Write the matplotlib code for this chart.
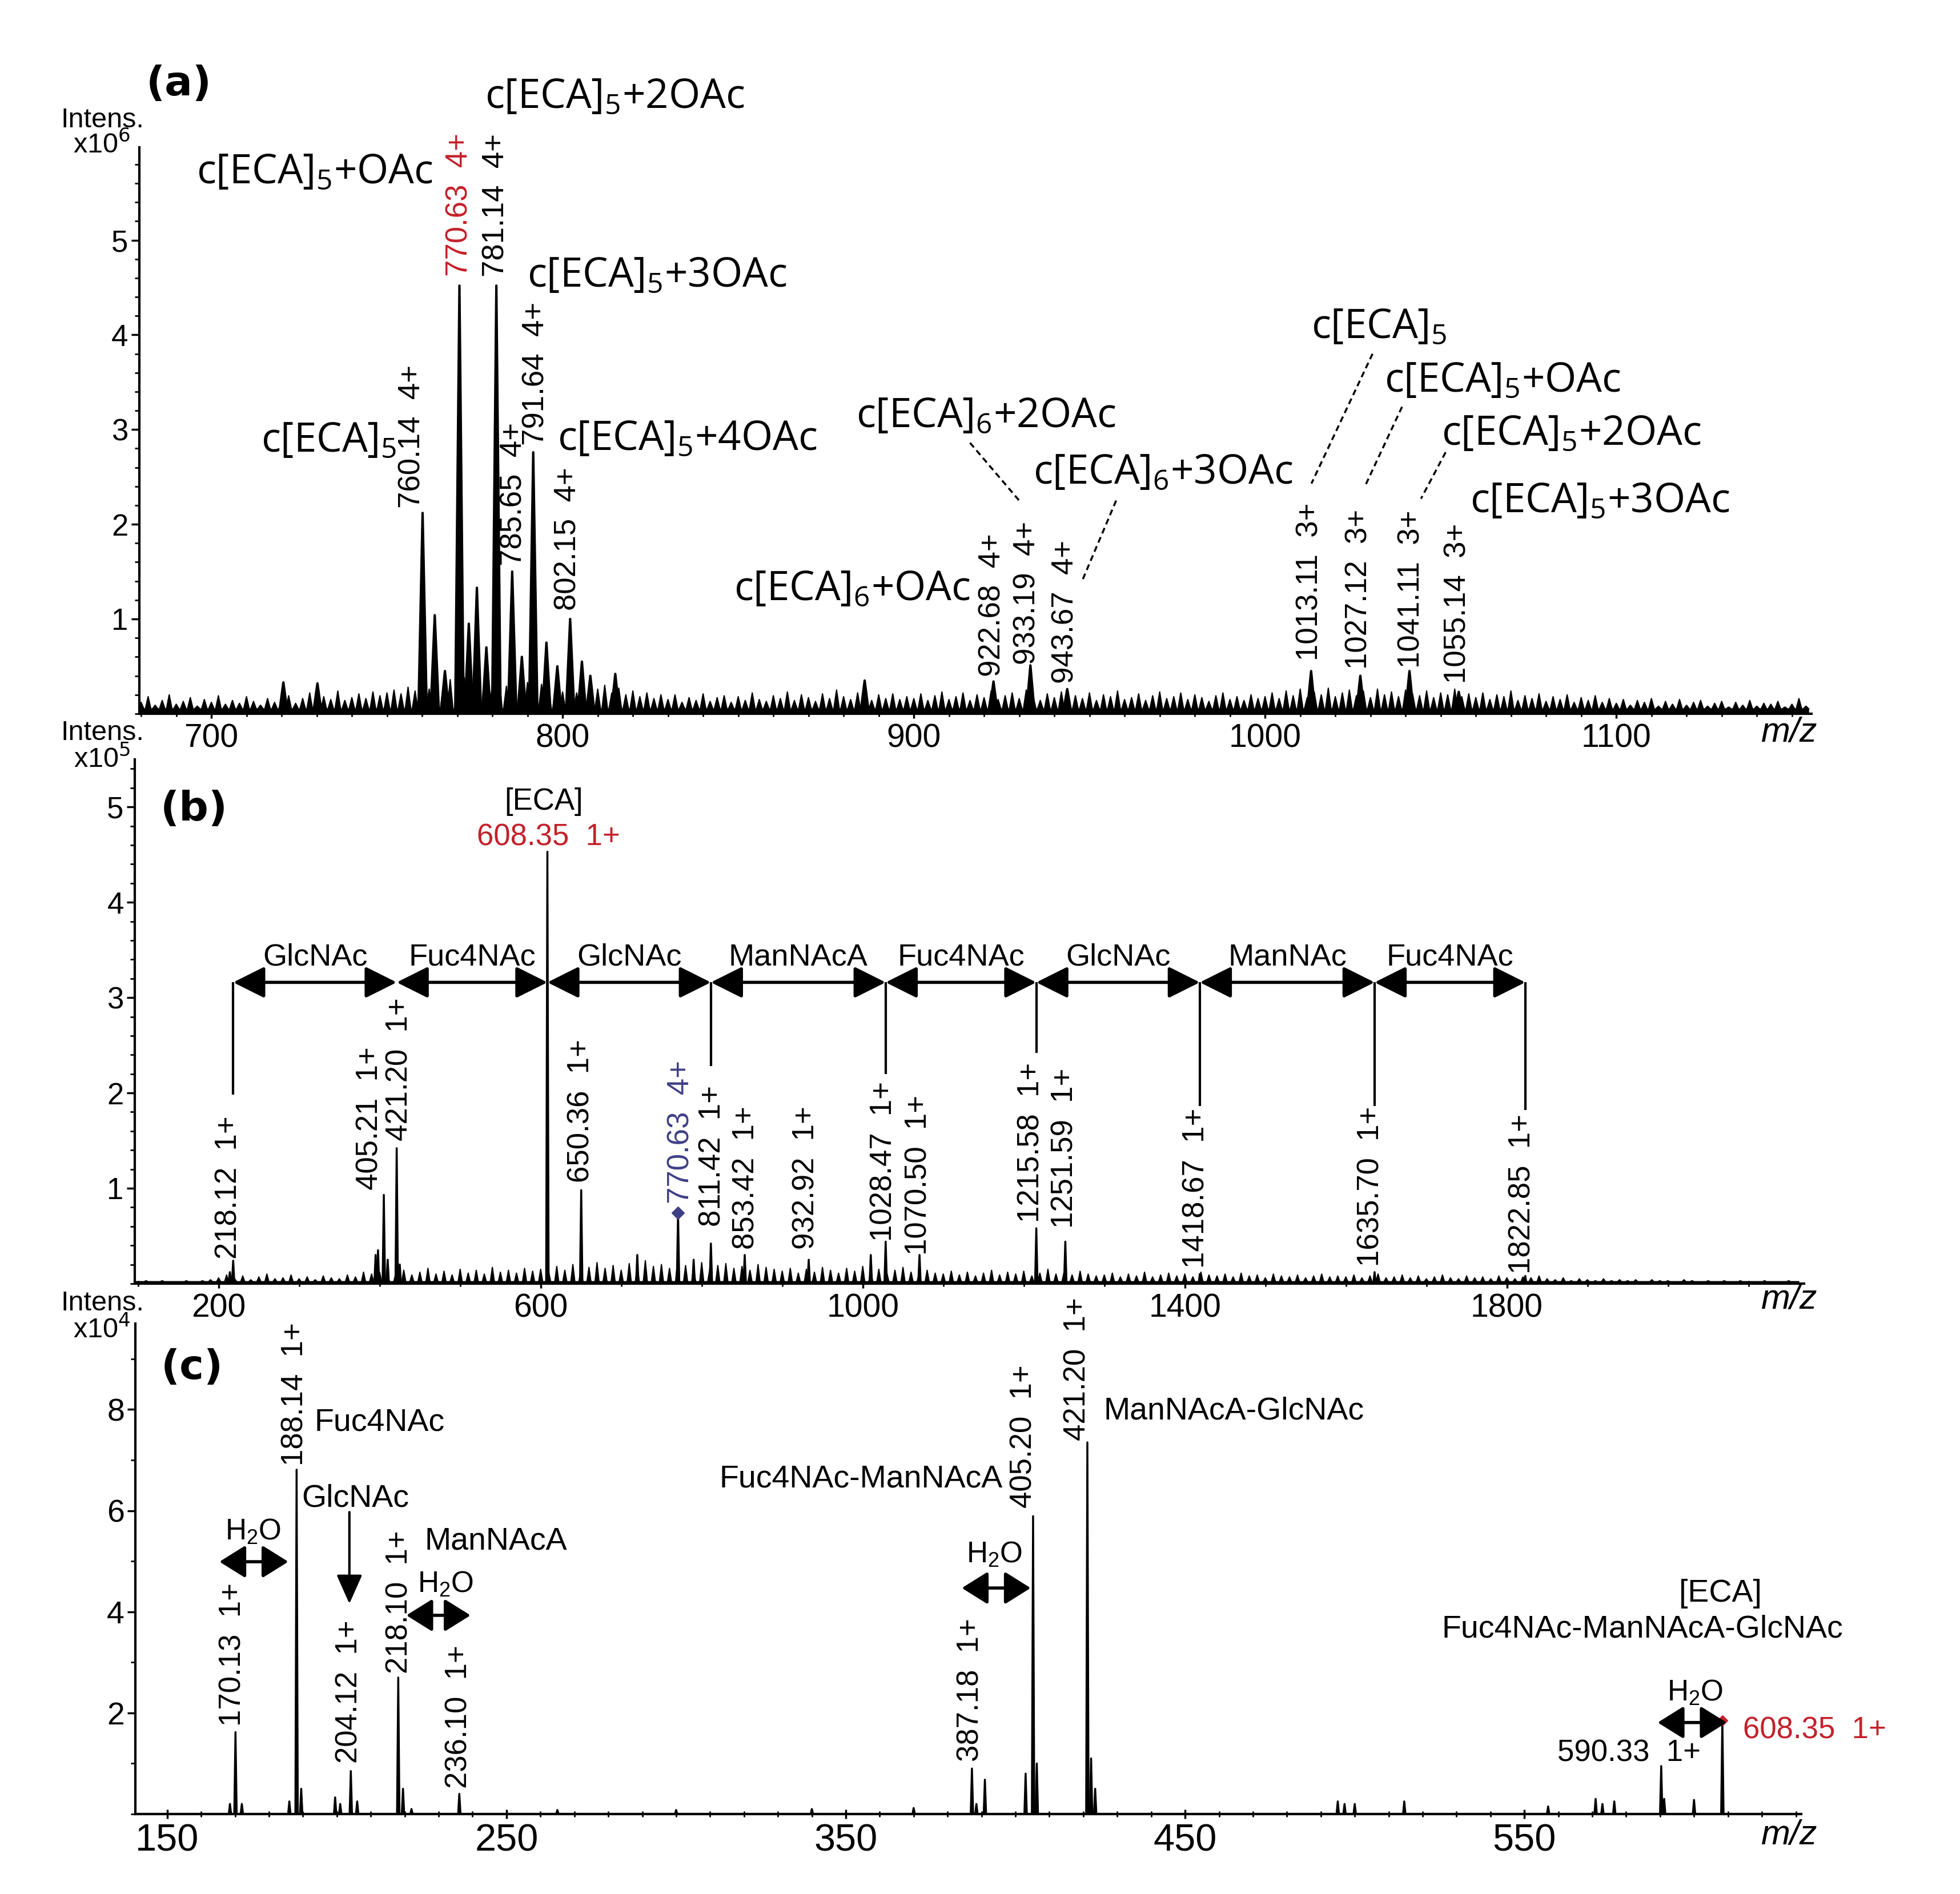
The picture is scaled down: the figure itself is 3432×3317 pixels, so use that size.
import numpy as np
import matplotlib.pyplot as plt
from matplotlib.ticker import MultipleLocator, FixedLocator

plt.rcParams['font.family'] = ['Liberation Sans', 'DejaVu Sans']

RED = '#c4212b'
NAVY = '#3f3f86'
OPEN = ['Open Sans', 'DejaVu Sans']

# ---------------- panel (a): x10^6 ----------------
a_peak_mz = [720.5, 730.2, 760.14, 763.6, 766.5, 770.63, 773.3, 775.6, 778.3, 781.14,
             785.65, 788.4, 791.64, 795.4, 798.5, 802.15, 805.5, 807.9, 815.0, 886.0,
             922.68, 933.19, 943.67, 1013.11, 1027.12, 1041.11, 1055.14]
a_peak_int = [0.33, 0.32, 2.12, 1.04, 0.45, 4.52, 0.95, 1.33, 0.70, 4.52,
              1.50, 0.60, 2.76, 0.75, 0.50, 1.00, 0.55, 0.40, 0.42, 0.35,
              0.34, 0.51, 0.26, 0.45, 0.40, 0.45, 0.23]
a_floor = 0.05
a_noise_mz0, a_noise_step = 680, 2
a_noise = [0.12, 0.18, 0.09, 0.14, 0.20, 0.10, 0.13, 0.17, 0.08, 0.15, 0.12, 0.19, 0.10, 0.14, 0.11, 0.18, 0.13, 0.09, 0.16, 0.12,
           0.14, 0.19, 0.11, 0.16, 0.22, 0.13, 0.18, 0.15, 0.24, 0.14, 0.17, 0.21, 0.16, 0.23, 0.19,
           0.22, 0.25, 0.21, 0.28, 0.24, 0.30, 0.26, 0.33, 0.28, 0.36, 0.30, 0.38, 0.32, 0.40, 0.34,
           0.31, 0.37, 0.29, 0.34, 0.28, 0.33, 0.26, 0.31, 0.25, 0.30, 0.23, 0.28, 0.22, 0.27, 0.21,
           0.26, 0.30, 0.22, 0.27, 0.20, 0.24, 0.18, 0.22, 0.16, 0.20,
           0.15, 0.20, 0.12, 0.17, 0.14, 0.21, 0.13, 0.17, 0.19, 0.12, 0.18, 0.14, 0.22, 0.15, 0.13, 0.19, 0.16, 0.23,
           0.14, 0.20, 0.17, 0.13, 0.21, 0.16, 0.25, 0.18, 0.15, 0.22, 0.17, 0.14, 0.20, 0.16, 0.21, 0.15, 0.18,
           0.16, 0.21, 0.14, 0.19, 0.23, 0.15, 0.18, 0.22, 0.14, 0.20, 0.17, 0.24, 0.15, 0.19, 0.22, 0.16, 0.25,
           0.18, 0.14, 0.21, 0.17, 0.23, 0.15, 0.19, 0.16, 0.22, 0.14, 0.20, 0.18, 0.24, 0.15, 0.17, 0.21, 0.14,
           0.19, 0.23, 0.16, 0.18, 0.22, 0.15, 0.20, 0.17, 0.13, 0.19, 0.22, 0.15, 0.18, 0.14, 0.20, 0.16,
           0.18, 0.22, 0.16, 0.24, 0.19, 0.26, 0.17, 0.23, 0.20, 0.27, 0.18, 0.22, 0.25, 0.19, 0.24,
           0.17, 0.26, 0.20, 0.23, 0.18, 0.25, 0.21, 0.19, 0.24, 0.17, 0.22, 0.20, 0.26, 0.18, 0.21,
           0.17, 0.22, 0.15, 0.20, 0.18, 0.24, 0.14, 0.19, 0.16, 0.21, 0.13, 0.18, 0.15, 0.20, 0.12, 0.17, 0.14, 0.19, 0.12, 0.16,
           0.11, 0.15, 0.09, 0.14, 0.12, 0.16, 0.08, 0.13, 0.10, 0.15, 0.09, 0.12, 0.14, 0.08,
           0.11, 0.13, 0.07, 0.12, 0.09, 0.14, 0.08, 0.11, 0.10, 0.13, 0.07, 0.10, 0.16, 0.08]
a_lab_mz = [760.14, 770.63, 781.14, 785.65, 791.64, 802.15, 922.68, 933.19, 943.67,
            1013.11, 1027.12, 1041.11, 1055.14]
a_lab_z = [4, 4, 4, 4, 4, 4, 4, 4, 4, 3, 3, 3, 3]
a_lab_x = [757.2, 770.6, 781.1, 786.0, 792.4, 801.6, 922.4, 932.2, 943.2,
           1012.7, 1026.7, 1041.6, 1054.8]
a_lab_y = [2.17, 4.62, 4.61, 1.56, 2.83, 1.09, 0.39, 0.52, 0.32, 0.56, 0.47, 0.48, 0.32]
a_names = ['c[ECA]$\\mathdefault{_5}$+2OAc', 'c[ECA]$\\mathdefault{_5}$+OAc',
           'c[ECA]$\\mathdefault{_5}$+3OAc', 'c[ECA]$\\mathdefault{_5}$',
           'c[ECA]$\\mathdefault{_5}$+4OAc', 'c[ECA]$\\mathdefault{_6}$+OAc',
           'c[ECA]$\\mathdefault{_6}$+2OAc', 'c[ECA]$\\mathdefault{_6}$+3OAc',
           'c[ECA]$\\mathdefault{_5}$', 'c[ECA]$\\mathdefault{_5}$+OAc',
           'c[ECA]$\\mathdefault{_5}$+2OAc', 'c[ECA]$\\mathdefault{_5}$+3OAc']
a_name_x = [777.9, 695.8, 789.9, 714.1, 798.5, 848.8, 883.6, 934.0, 1013.2, 1034.0, 1050.2, 1058.4]
a_name_y = [6.40, 5.60, 4.51, 2.77, 2.79, 1.20, 3.03, 2.43, 3.97, 3.40, 2.84, 2.13]
a_dash = [((916.0, 2.86), (930.0, 2.25)), ((957.6, 2.25), (948.0, 1.41)),
          ((1030.6, 3.80), (1013.2, 2.43)), ((1039.0, 3.24), (1028.3, 2.39)),
          ((1051.4, 2.76), (1044.4, 2.27))]

# ---------------- panel (b): x10^5 ----------------
b_peak_mz = [214.0, 218.12, 395.0, 398.0, 405.21, 410.0, 421.20, 425.0, 608.35, 650.36,
             720.0, 770.63, 790.0, 811.42, 853.42, 932.92, 1010.0, 1028.47, 1070.50,
             1215.58, 1251.59, 1418.67, 1635.70, 1822.85]
b_peak_int = [0.12, 0.24, 0.30, 0.35, 0.93, 0.25, 1.42, 0.20, 4.53, 0.98,
              0.30, 0.74, 0.25, 0.42, 0.30, 0.25, 0.30, 0.44, 0.30,
              0.58, 0.44, 0.10, 0.12, 0.08]
b_floor = 0.02
b_noise_mz0, b_noise_step = 100, 10
b_noise = [0.02, 0.03, 0.02, 0.03, 0.02, 0.02, 0.03, 0.02, 0.03, 0.04,
           0.06, 0.09, 0.05, 0.08, 0.04, 0.07, 0.10, 0.05, 0.06, 0.09, 0.05, 0.07, 0.04, 0.08, 0.06, 0.05, 0.09, 0.07, 0.12, 0.10,
           0.12, 0.08, 0.10, 0.14, 0.09, 0.12, 0.16, 0.10, 0.13, 0.09, 0.15, 0.11, 0.14, 0.10, 0.17, 0.12, 0.14, 0.11, 0.16, 0.13,
           0.15, 0.12, 0.18, 0.14, 0.20, 0.15, 0.17, 0.22, 0.16, 0.19, 0.14, 0.21, 0.17, 0.24, 0.18,
           0.20, 0.16, 0.23, 0.19, 0.17, 0.22, 0.15, 0.19, 0.21, 0.16, 0.18, 0.14, 0.20, 0.17, 0.15,
           0.13, 0.16, 0.11, 0.15, 0.12, 0.17, 0.14, 0.11, 0.16, 0.13, 0.18, 0.12, 0.15, 0.11, 0.14, 0.17, 0.12, 0.10, 0.14, 0.11,
           0.10, 0.13, 0.09, 0.12, 0.08, 0.11, 0.14, 0.09, 0.12, 0.10, 0.13, 0.08, 0.11, 0.15, 0.10, 0.12, 0.09, 0.13, 0.10, 0.08,
           0.09, 0.11, 0.07, 0.10, 0.08, 0.12, 0.07, 0.09, 0.11, 0.08, 0.10, 0.07, 0.12, 0.09, 0.08,
           0.10, 0.07, 0.11, 0.08, 0.09, 0.06, 0.10, 0.08, 0.07, 0.09, 0.06, 0.08, 0.10, 0.07, 0.08,
           0.07, 0.09, 0.06, 0.08, 0.10, 0.06, 0.07, 0.09, 0.06, 0.08, 0.05, 0.07, 0.09,
           0.06, 0.05, 0.08, 0.06, 0.07, 0.05, 0.08, 0.06, 0.05, 0.07, 0.06, 0.08,
           0.05, 0.04, 0.06, 0.03, 0.05, 0.04, 0.03, 0.05, 0.03, 0.04, 0.03, 0.04, 0.02, 0.04, 0.03, 0.03,
           0.02, 0.04, 0.03, 0.02, 0.03, 0.02, 0.03, 0.02, 0.03, 0.02, 0.02, 0.03, 0.02, 0.02, 0.03, 0.02]
b_lab_mz = [218.12, 405.21, 421.20, 650.36, 770.63, 811.42, 853.42, 932.92, 1028.47,
            1070.50, 1215.58, 1251.59, 1418.67, 1635.70, 1822.85]
b_lab_z = [1, 1, 1, 1, 4, 1, 1, 1, 1, 1, 1, 1, 1, 1, 1]
b_lab_x = [212.5, 388.0, 425.0, 650.4, 774.0, 813.0, 855.0, 930.0, 1026.0,
           1069.5, 1209.0, 1251.0, 1414.0, 1631.0, 1819.0]
b_lab_y = [0.26, 0.98, 1.50, 1.06, 0.84, 0.60, 0.36, 0.36, 0.44, 0.30, 0.64, 0.58, 0.16, 0.18, 0.10]
b_seg_mz = [218.12, 421.20, 608.35, 811.42, 1028.47, 1215.58, 1418.67, 1635.70, 1822.85]
b_seg_names = ['GlcNAc', 'Fuc4NAc', 'GlcNAc', 'ManNAcA', 'Fuc4NAc', 'GlcNAc', 'ManNAc', 'Fuc4NAc']
b_drop_mz = [218.12, 811.42, 1028.47, 1215.58, 1418.67, 1635.70, 1822.85]
b_drop_end = [1.98, 2.28, 2.20, 2.42, 1.86, 1.86, 1.82]

# ---------------- panel (c): x10^4 ----------------
c_peak_mz = [168.5, 170.13, 172.0, 186.0, 188.14, 189.5, 199.5, 201.0, 204.12, 206.0,
             218.10, 219.5, 222.0, 236.10, 265.0, 300.0, 340.0, 370.0, 387.18, 388.5,
             391.0, 403.0, 405.20, 406.3, 421.20, 422.3, 423.5, 495.0, 497.0, 500.0,
             514.6, 557.0, 571.0, 573.0, 576.5, 590.33, 591.2, 600.0, 608.35]
c_peak_int = [0.20, 1.62, 0.20, 0.25, 6.81, 0.50, 0.33, 0.20, 0.85, 0.25,
              2.70, 0.50, 0.10, 0.40, 0.08, 0.08, 0.10, 0.12, 0.90, 0.20,
              0.68, 0.80, 5.89, 1.00, 7.35, 1.10, 0.50, 0.25, 0.20, 0.20,
              0.25, 0.15, 0.30, 0.20, 0.25, 0.95, 0.30, 0.28, 1.85]
c_lab_mz = [170.13, 188.14, 204.12, 218.10, 236.10, 387.18, 405.20, 421.20]
c_lab_x = [169.3, 187.6, 203.7, 218.5, 236.0, 386.7, 402.5, 418.2]
c_lab_y = [1.74, 6.89, 1.00, 2.78, 0.51, 1.04, 6.05, 7.39]


def draw_spectrum(ax, mz, inten, hw, lw):
    for m, h in zip(mz, inten):
        ax.fill([m - hw, m, m + hw], [0, h, 0], color='k', lw=0)
        ax.plot([m - hw, m, m + hw], [0, h, 0], color='k', lw=lw,
                solid_joinstyle='round')


def draw_noise(ax, mz0, step, vals, floor, lw, frac=0.3):
    # narrow spikes at the read noise heights, standing on the baseline level
    n = len(vals)
    c = mz0 + step * np.arange(n)
    xs = np.empty(3 * n)
    ys = np.empty(3 * n)
    xs[0::3] = c - frac * step
    xs[1::3] = c
    xs[2::3] = c + frac * step
    ys[0::3] = floor
    ys[1::3] = vals
    ys[2::3] = floor
    ax.fill_between(xs, 0, ys, color='k', lw=0)
    ax.plot(xs, ys, color='k', lw=lw)


def vlabels(ax, xs, ys, mzs, zs, colors, size=38):
    for x, y, m, z, c in zip(xs, ys, mzs, zs, colors):
        ax.text(x, y, f'{m:.2f}  {z}+', rotation=90, ha='center', va='bottom',
                fontsize=size, color=c)


def setup(ax, xlim, ylim, xmaj, xmin, ymaj, ymin, xfs, yfs):
    ax.set_xlim(*xlim)
    ax.set_ylim(*ylim)
    ax.patch.set_visible(False)
    for s in ['top', 'right']:
        ax.spines[s].set_visible(False)
    ax.spines['left'].set_linewidth(3)
    ax.spines['bottom'].set_linewidth(3)
    ax.xaxis.set_major_locator(FixedLocator(xmaj))
    ax.xaxis.set_minor_locator(MultipleLocator(xmin))
    ax.yaxis.set_major_locator(FixedLocator(ymaj))
    ax.yaxis.set_minor_locator(MultipleLocator(ymin))
    ax.tick_params(axis='x', which='major', direction='inout', length=12, width=2.5,
                   labelsize=xfs, pad=6)
    ax.tick_params(axis='x', which='minor', direction='inout', length=7, width=2)
    ax.tick_params(axis='y', which='major', direction='out', length=10, width=2.5,
                   labelsize=yfs, pad=4)
    ax.tick_params(axis='y', which='minor', direction='out', length=6, width=2)


fig = plt.figure(figsize=(34.32, 33.17), dpi=100)

# ================= (a) =================
ax = fig.add_axes([0.0711, 0.6232, 0.853, 0.299])
setup(ax, (679.5, 1155.5), (0, 5.98), [700, 800, 900, 1000, 1100], 10,
      [1, 2, 3, 4, 5], 0.2, 41, 38)
draw_noise(ax, a_noise_mz0, a_noise_step, a_noise, a_floor, 1.5, 0.4)
draw_spectrum(ax, a_peak_mz, a_peak_int, 1.2, 3)
vlabels(ax, a_lab_x, a_lab_y, a_lab_mz, a_lab_z,
        [RED if m == 770.63 else 'k' for m in a_lab_mz])
for t, x, y in zip(a_names, a_name_x, a_name_y):
    ax.text(x, y, t, ha='left', va='baseline', fontsize=51, family=OPEN)
for p0, p1 in a_dash:
    ax.plot([p0[0], p1[0]], [p0[1], p1[1]], color='k', lw=2.5, ls=(0, (3, 2)),
            clip_on=False)

# ================= (b) =================
bx = fig.add_axes([0.0688, 0.3223, 0.8516, 0.2768])
setup(bx, (96, 2169), (0, 5.5), [200, 600, 1000, 1400, 1800], 100,
      [1, 2, 3, 4, 5], 0.2, 41, 38)
draw_noise(bx, b_noise_mz0, b_noise_step, b_noise, b_floor, 1.5, 0.25)
draw_spectrum(bx, b_peak_mz, b_peak_int, 1.5, 2.5)
vlabels(bx, b_lab_x, b_lab_y, b_lab_mz, b_lab_z,
        [NAVY if m == 770.63 else 'k' for m in b_lab_mz])
bx.plot([770.63], [0.74], marker='D', ms=11, color=NAVY)
bx.text(603.5, 4.97, '[ECA]', ha='center', va='baseline', fontsize=38)
bx.text(610, 4.60, '608.35  1+', ha='center', va='baseline', fontsize=38, color=RED)
arrow_y = 3.16
for m0, m1, name in zip(b_seg_mz[:-1], b_seg_mz[1:], b_seg_names):
    bx.annotate('', xy=(m1, arrow_y), xytext=(m0, arrow_y),
                arrowprops=dict(arrowstyle='<|-|>,head_length=0.4,head_width=0.2',
                                mutation_scale=85, lw=4, color='k',
                                shrinkA=0, shrinkB=0))
    bx.text((m0 + m1) / 2, 3.34, name, ha='center', va='baseline', fontsize=39)
bx.vlines(b_drop_mz, b_drop_end, arrow_y, color='k', lw=3)

# ================= (c) =================
cx = fig.add_axes([0.0692, 0.0422, 0.8498, 0.259])
setup(cx, (140.7, 631.6), (0, 9.7), [150, 250, 350, 450, 550], 10,
      [2, 4, 6, 8], 1, 48, 40)
cx.axhline(0, color='k', lw=3)
draw_spectrum(cx, c_peak_mz, c_peak_int, 0.35, 2.5)
vlabels(cx, c_lab_x, c_lab_y, c_lab_mz, [1] * len(c_lab_mz), ['k'] * len(c_lab_mz))
cx.text(559.8, 1.04, '590.33  1+', ha='left', va='baseline', fontsize=38)
cx.text(614.5, 1.50, '608.35  1+', ha='left', va='baseline', fontsize=38, color=RED)
cx.plot([608.35], [1.85], marker='D', ms=9, color=RED)

fs_c = 40
cx.text(193.4, 7.58, 'Fuc4NAc', ha='left', va='baseline', fontsize=fs_c)
cx.text(189.6, 6.08, 'GlcNAc', ha='left', va='baseline', fontsize=fs_c)
cx.text(225.9, 5.23, 'ManNAcA', ha='left', va='baseline', fontsize=fs_c)
cx.text(396.3, 6.46, 'Fuc4NAc-ManNAcA', ha='right', va='baseline', fontsize=fs_c)
cx.text(426.0, 7.81, 'ManNAcA-GlcNAc', ha='left', va='baseline', fontsize=fs_c)
cx.text(607.8, 4.20, '[ECA]', ha='center', va='baseline', fontsize=fs_c)
cx.text(584.8, 3.50, 'Fuc4NAc-ManNAcA-GlcNAc', ha='center', va='baseline', fontsize=fs_c)

h2o = [(175.3, 5.43, 165.4, 185.7, 4.99), (232.1, 4.39, 220.5, 239.4, 3.93),
       (393.8, 4.97, 384.2, 404.5, 4.47), (600.3, 2.24, 589.3, 609.6, 1.81)]
for tx, ty, x0, x1, ay in h2o:
    cx.text(tx, ty, 'H$\\mathdefault{_2}$O', ha='center', va='baseline', fontsize=37)
    cx.annotate('', xy=(x1, ay), xytext=(x0, ay),
                arrowprops=dict(arrowstyle='<|-|>,head_length=0.4,head_width=0.25',
                                mutation_scale=70, lw=4, color='k',
                                shrinkA=0, shrinkB=0))
cx.annotate('', xy=(203.7, 4.16), xytext=(203.7, 5.97),
            arrowprops=dict(arrowstyle='-|>,head_length=0.45,head_width=0.2',
                            mutation_scale=70, lw=3, color='k', shrinkA=0, shrinkB=0))

# ---------------- frame texts ----------------
for x, y, t in [(0.0912, 0.9554, '(a)'), (0.0990, 0.5728, '(b)'), (0.0979, 0.2777, '(c)')]:
    fig.text(x, y, t, ha='center', va='center', fontsize=52, weight='bold',
             family=['DejaVu Sans'])
for y1, y2, e in [(0.9364, 0.9234, 6), (0.6132, 0.5990, 5), (0.3120, 0.2978, 4)]:
    fig.text(0.0524, y1, 'Intens.', ha='center', va='center', fontsize=35)
    fig.text(0.0520, y2, 'x10$^{%d}$' % e, ha='center', va='center', fontsize=35)
for y in [0.6132, 0.3138, 0.0310]:
    fig.text(0.9130, y, 'm/z', ha='center', va='center', fontsize=44, style='italic')

fig.savefig('out.png', dpi=100)
